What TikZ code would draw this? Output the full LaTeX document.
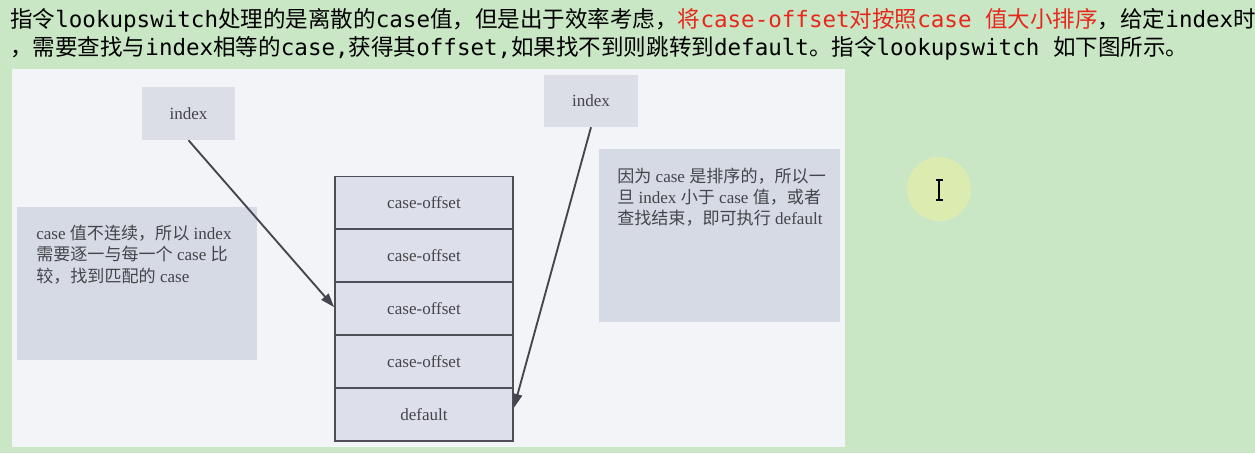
\documentclass[tikz,border=0pt]{standalone}
\usepackage{fontspec}
\setmainfont{Liberation Serif}
\newfontfamily\cjk{Noto Sans CJK SC}
\newfontfamily\hmono{DejaVu Sans Mono}
\usetikzlibrary{arrows.meta}
\definecolor{bggreen}{HTML}{C9E7C5}
\definecolor{panelc}{HTML}{F3F4F8}
\definecolor{boxfill}{HTML}{DBDEE7}
\definecolor{notefill}{HTML}{D6DAE5}
\definecolor{cellfill}{HTML}{DDE0EA}
\definecolor{stackline}{HTML}{4E4E56}
\definecolor{arrowc}{HTML}{45454F}
\definecolor{dtextc}{HTML}{45454A}
\definecolor{hred}{HTML}{E8261C}
\definecolor{halo}{HTML}{DCEBB0}
\newcommand{\dfont}{\fontsize{12.8}{15}\selectfont}
\newcommand{\hfont}{\fontsize{16.9}{20}\selectfont}
\begin{document}
\begin{tikzpicture}[x=0.75pt,y=-0.75pt,
  hline/.style={anchor=base west, inner sep=0pt, font=\hfont},
  gbox/.style={fill=boxfill, inner sep=0pt, text=dtextc, font=\dfont},
  notebox/.style={fill=notefill, inner sep=0pt},
  noteline/.style={anchor=base west, inner sep=0pt, text=dtextc, font=\dfont},
  cell/.style={draw=stackline, line width=1.3pt, fill=cellfill, inner sep=0pt,
    minimum width={178*0.75pt}, minimum height={53*0.75pt}, text=dtextc, font=\dfont},
  ptr/.style={draw=arrowc, line width=1.4pt, -{Triangle[length=10.5pt,width=7pt]}}
]
\useasboundingbox (0,0) rectangle (1255,453);
\fill[bggreen] (0,0) rectangle (1255,453);
% header text
\node[hline] (h1) at (10,27.5) {\cjk 指令\hmono lookupswitch\cjk 处理的是离散的\hmono case\cjk 值，但是出于效率考虑，\color{hred}将\hmono case-offset\cjk 对按照\hmono case \cjk 值大小排序\color{black}，给定\hmono index\cjk 时};
\node[hline] (h2) at (10,55.5) {\cjk ，需要查找与\hmono index\cjk 相等的\hmono case,\cjk 获得其\hmono offset,\cjk 如果找不到则跳转到\hmono default\cjk 。指令\hmono lookupswitch \cjk 如下图所示。};
% image panel
\fill[panelc] (12,69) rectangle (845,447);
% index boxes
\node[gbox, minimum width={93*0.75pt}, minimum height={53*0.75pt}] (idxL) at (188.5,113.5) {index};
\node[gbox, minimum width={94*0.75pt}, minimum height={52*0.75pt}] (idxR) at (591,101) {index};
% note boxes
\node[notebox, minimum width={240*0.75pt}, minimum height={153*0.75pt}] (noteL) at (137,283.5) {};
\node[noteline] (nL1) at (36,239) {case {\cjk 值不连续，所以} index};
\node[noteline] (nL2) at (36,260.5) {{\cjk 需要逐一与每一个} case {\cjk 比}};
\node[noteline] (nL3) at (36,282) {{\cjk 较，找到匹配的} case};
\node[notebox, minimum width={241*0.75pt}, minimum height={173*0.75pt}] (noteR) at (719.5,235.5) {};
\node[noteline] (nR1) at (617,182) {{\cjk 因为} case {\cjk 是排序的，所以一}};
\node[noteline] (nR2) at (617,203) {{\cjk 旦} index {\cjk 小于} case {\cjk 值，或者}};
\node[noteline] (nR3) at (617,224) {{\cjk 查找结束，即可执行} default};
% stack
\node[cell] (r1) at (424,203) {case-offset};
\node[cell] (r2) at (424,255.5) {case-offset};
\node[cell] (r3) at (424,308.5) {case-offset};
\node[cell] (r4) at (424,361.5) {case-offset};
\node[cell] (r5) at (424,414.5) {default};
% arrows
\draw[ptr] (idxL.south) -- ([yshift=1pt]r3.west);
\draw[ptr] (idxR.south) -- ([yshift=5pt]r5.east);
% cursor halo
\fill[halo] (939,189) circle[radius=24pt];
\draw[black, line width=1.1pt] (939,180) -- (939,200);
\draw[black, line width=1pt] (935.5,180) -- (942.5,180);
\draw[black, line width=1pt] (935.5,200) -- (942.5,200);
\end{tikzpicture}
\end{document}
